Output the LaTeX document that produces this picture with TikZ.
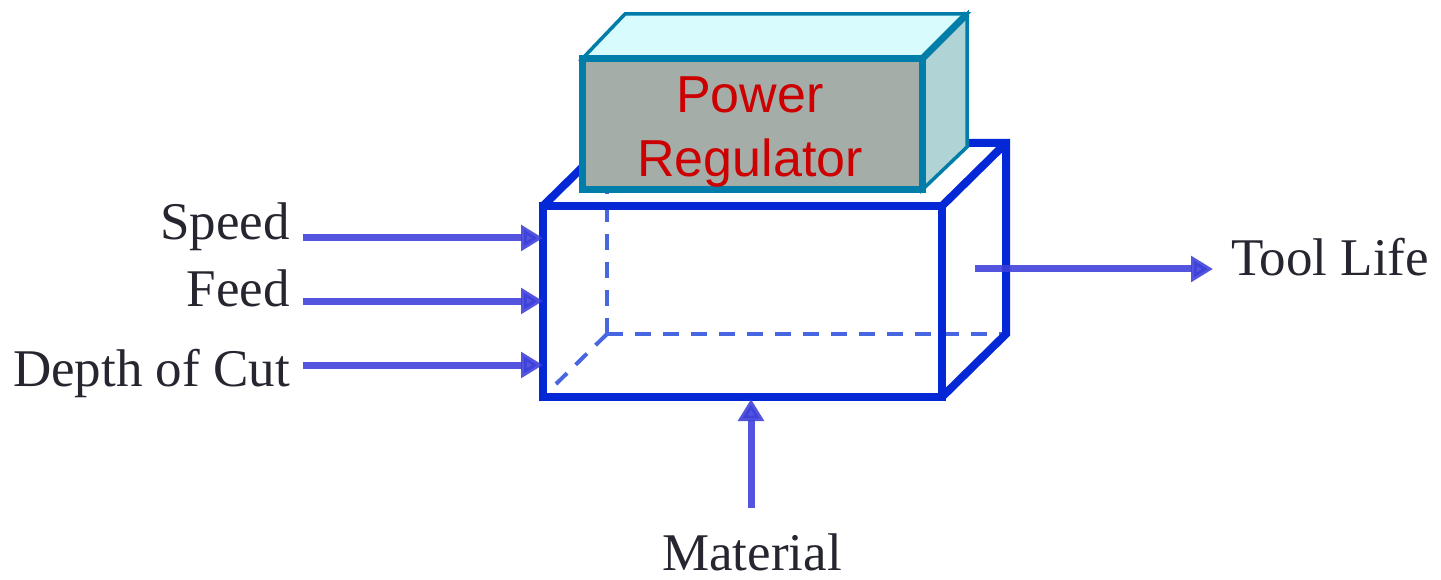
\documentclass[tikz,border=0pt]{standalone}
\usepackage{fontspec}
\setmainfont{Liberation Serif}
\newfontfamily\regfont{Liberation Sans}
\usetikzlibrary{arrows.meta}
\definecolor{boxblue}{RGB}{5,40,215}
\definecolor{dashblue}{RGB}{72,102,226}
\definecolor{arrblue}{RGB}{60,62,218}
\definecolor{regedge}{RGB}{0,125,168}
\definecolor{regtop}{RGB}{216,252,253}
\definecolor{regside}{RGB}{176,211,213}
\definecolor{regfront}{RGB}{165,173,168}
\definecolor{regtext}{RGB}{204,0,0}
\definecolor{labtext}{RGB}{38,38,48}
\tikzset{
  boxline/.style={draw=boxblue,line width=8pt,line join=miter},
  hidden/.style={draw=dashblue,line width=4pt,dash pattern=on 16pt off 12pt},
  regthin/.style={draw=regedge,line width=3.5pt,line join=miter},
  regthick/.style={draw=regedge,line width=7pt,line join=miter},
  arr/.style={draw=arrblue,opacity=0.88,line width=7pt,-{Triangle[length=22pt,width=25pt]}},
  lab/.style={inner sep=0pt,text=labtext,font=\fontsize{53}{64}\selectfont},
  reglab/.style={inner sep=0pt,text=regtext,font=\regfont\fontsize{52}{64}\selectfont}
}
\begin{document}
\begin{tikzpicture}[x=1pt,y=-1pt]
\useasboundingbox (0,0) rectangle (1441,580);
% blue box corners
\coordinate (F1) at (543,206);
\coordinate (F2) at (942,206);
\coordinate (F3) at (942,397);
\coordinate (F4) at (543,397);
\coordinate (B1) at (607,143);
\coordinate (B2) at (1006,143);
\coordinate (B3) at (1006,334);
\coordinate (B4) at (607,334);
% hidden edges
\draw[hidden] (B4) -- (B1);
\draw[hidden] (B4) -- (B3);
\draw[hidden] (B4) -- (556,384);
% visible edges
\draw[boxline] (F1) rectangle (F3);
\draw[boxline] (F1) -- (B1) -- (B2) -- (B3) -- (F3);
\draw[boxline] (F2) -- (B2);
% power regulator
\coordinate (R1) at (582,59);
\coordinate (R2) at (922,59);
\coordinate (R3) at (922,190);
\coordinate (R4) at (582,190);
\coordinate (T1) at (625,14);
\coordinate (T2) at (967,14);
\coordinate (T3) at (967,147);
\filldraw[regthin,fill=regtop] (R1) -- (T1) -- (T2) -- (R2) -- cycle;
\filldraw[regthin,fill=regside] (R2) -- (T2) -- (T3) -- (R3) -- cycle;
\draw[regthick] (R2) -- (T2);
\filldraw[regthick,fill=regfront] (R1) rectangle (R3);
\node[reglab,anchor=base] (pw) at (750,113) {Power};
\node[reglab,anchor=base] (rg) at (750,177) {Regulator};
% labels
\node[lab,anchor=base east] (speed) at (290,240) {Speed};
\node[lab,anchor=base east] (feed) at (290,306) {Feed};
\node[lab,anchor=base east] (depth) at (290,386) {Depth of Cut};
\node[lab,anchor=base west] (tool) at (1231,276) {Tool Life};
\node[lab,anchor=base] (mat) at (752,570) {Material};
% arrow ends
\coordinate (s0) at (303,238);
\coordinate (s1) at (543,238);
\coordinate (f0) at (303,301);
\coordinate (f1) at (543,301);
\coordinate (d0) at (303,365);
\coordinate (d1) at (543,365);
\coordinate (t0) at (975,269);
\coordinate (t1) at (1213,269);
\coordinate (m0) at (751,508);
\coordinate (m1) at (751,399);
\draw[arr] (s0) -- (s1);
\draw[arr] (f0) -- (f1);
\draw[arr] (d0) -- (d1);
\draw[arr] (t0) -- (t1);
\draw[arr] (m0) -- (m1);
\end{tikzpicture}
\end{document}
